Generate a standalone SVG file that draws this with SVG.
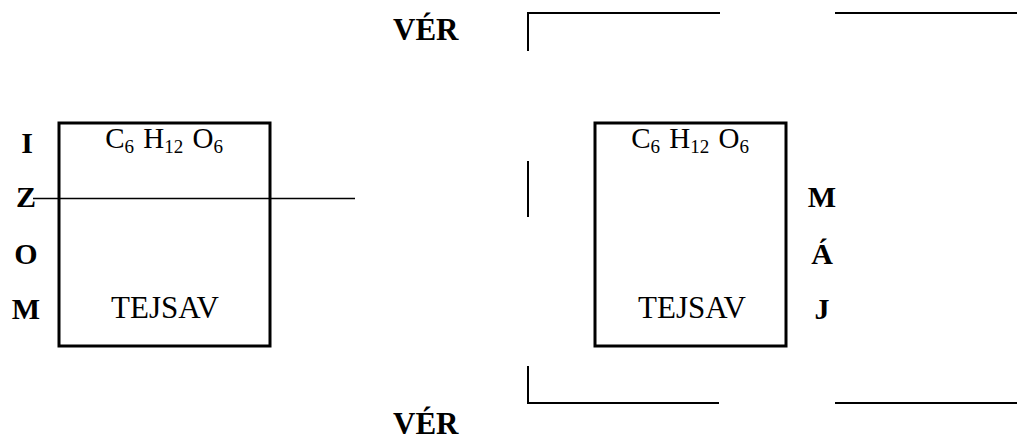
<svg xmlns="http://www.w3.org/2000/svg" width="1017" height="439" viewBox="0 0 1017 439">
  <style>
    .box { fill: none; stroke: #000; stroke-width: 3; }
    .wall { fill: none; stroke: #000; stroke-width: 2; }
    .thin { fill: none; stroke: #000; stroke-width: 1.5; }
    text { font-family: 'Liberation Serif', 'Times New Roman', serif; fill: #000; }
    .lbl { font-weight: bold; font-size: 30px; }
    .ver { font-weight: bold; font-size: 31px; }
    .chem { font-size: 29px; word-spacing: 2px; }
    .txt { font-size: 31px; }
    .sub { font-size: 19px; }
  </style>
  <rect width="1017" height="439" fill="#fff"/>

  <!-- blood vessel labels -->
  <g id="ver-top"><text class="ver" x="393" y="40" font-family="Liberation Serif">VÉR</text></g>
  <g id="ver-bottom"><text class="ver" x="393" y="434" font-family="Liberation Serif">VÉR</text></g>

  <!-- muscle cell -->
  <g id="izom">
    <rect class="box" x="59" y="123" width="211" height="223"/>
    <text class="chem" x="164" y="148" text-anchor="middle" font-family="Liberation Serif">C<tspan class="sub" dy="5">6</tspan><tspan dy="-5"> H</tspan><tspan class="sub" dy="5">12</tspan><tspan dy="-5"> O</tspan><tspan class="sub" dy="5">6</tspan></text>
    <text class="txt" x="165" y="318" text-anchor="middle" font-family="Liberation Serif">TEJSAV</text>
    <text class="lbl" x="27" y="153" text-anchor="middle" font-family="Liberation Serif">I</text>
    <text class="lbl" x="26" y="207" text-anchor="middle" font-family="Liberation Serif">Z</text>
    <text class="lbl" x="26" y="264" text-anchor="middle" font-family="Liberation Serif">O</text>
    <text class="lbl" x="26" y="319" text-anchor="middle" font-family="Liberation Serif">M</text>
  </g>

  <!-- liver cell -->
  <g id="maj">
    <rect class="box" x="595" y="123" width="191" height="223"/>
    <text class="chem" x="690" y="148" text-anchor="middle" font-family="Liberation Serif">C<tspan class="sub" dy="5">6</tspan><tspan dy="-5"> H</tspan><tspan class="sub" dy="5">12</tspan><tspan dy="-5"> O</tspan><tspan class="sub" dy="5">6</tspan></text>
    <text class="txt" x="692" y="318" text-anchor="middle" font-family="Liberation Serif">TEJSAV</text>
    <text class="lbl" x="822" y="207" text-anchor="middle" font-family="Liberation Serif">M</text>
    <text class="lbl" x="822" y="264" text-anchor="middle" font-family="Liberation Serif">Á</text>
    <text class="lbl" x="822" y="319" text-anchor="middle" font-family="Liberation Serif">J</text>
  </g>

  <!-- vessel walls and membrane line -->
  <g id="connectors">
    <line class="thin" x1="33" y1="198.5" x2="355" y2="198.5"/>
    <polyline class="wall" points="528,51 528,13 720,13"/>
    <line class="wall" x1="835" y1="13" x2="1017" y2="13"/>
    <line class="wall" x1="528" y1="161" x2="528" y2="217"/>
    <polyline class="wall" points="528,366 528,403 719,403"/>
    <line class="wall" x1="835" y1="403" x2="1017" y2="403"/>
  </g>
</svg>
